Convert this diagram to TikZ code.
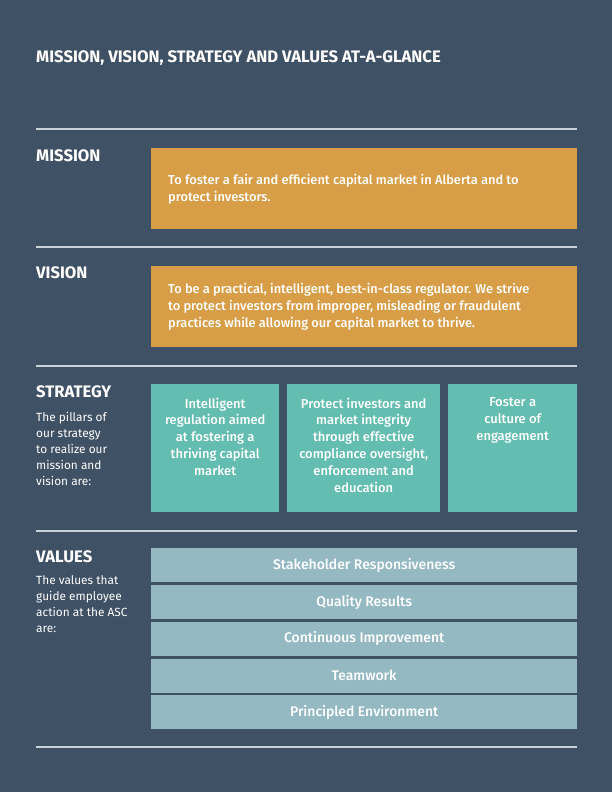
\documentclass[tikz,border=0pt]{standalone}
\usepackage{fontspec}
\setmainfont{Fira Sans}
\newfontfamily\semib{Fira Sans Medium}
\definecolor{bg}{HTML}{3F5164}
\definecolor{rulec}{HTML}{C9D1D9}
\definecolor{orangebox}{HTML}{D79E47}
\definecolor{tealbox}{HTML}{63BDB0}
\definecolor{valbox}{HTML}{95B9C3}
\definecolor{txt}{HTML}{FFFFFF}
\tikzset{
  rulel/.style={draw=rulec, line width=1.4bp},
  head/.style={anchor=base west, inner sep=0, text=txt, font=\bfseries\fontsize{16.7}{19}\selectfont},
  sidetext/.style={anchor=north west, inner sep=0, text=txt, align=left, font=\fontsize{11.9}{16}\selectfont},
  orangerect/.style={anchor=north west, inner sep=0, fill=orangebox, minimum width=426bp, minimum height=81bp},
  orangetext/.style={anchor=west, inner sep=0, text=txt, align=left, font=\semib\fontsize{12.9}{17}\selectfont},
  tealrect/.style={anchor=north west, inner sep=0, fill=tealbox, minimum height=128bp},
  tealtext/.style={anchor=north, inner sep=0, text=txt, align=center, font=\semib\fontsize{13}{17}\selectfont},
  valrect/.style={anchor=north west, inner sep=0, fill=valbox, minimum width=426bp, minimum height=34bp, text=txt, font=\semib\fontsize{14}{16}\selectfont},
}
\begin{document}
\begin{tikzpicture}[x=1bp,y=-1bp]
\fill[bg] (0,0) rectangle (612,792);
\useasboundingbox (0,0) rectangle (612,792);

\node[head] (title) at (36,63) {MISSION, VISION, STRATEGY AND VALUES AT-A-GLANCE};

\draw[rulel] (36,129) -- (577,129);
\draw[rulel] (36,247) -- (577,247);
\draw[rulel] (36,366) -- (577,366);
\draw[rulel] (36,531) -- (577,531);
\draw[rulel] (36,747) -- (577,747);

% Mission
\node[head] (missionlabel) at (36,161) {MISSION};
\node[orangerect] (missionbox) at (151,148) {};
\node[orangetext] (missiontext) at (168,189) {To foster a fair and efficient capital market in Alberta and to\\protect investors.};

% Vision
\node[head] (visionlabel) at (36,278) {VISION};
\node[orangerect] (visionbox) at (151,266) {};
\node[orangetext] (visiontext) at (168,307) {To be a practical, intelligent, best-in-class regulator. We strive\\to protect investors from improper, misleading or fraudulent\\practices while allowing our capital market to thrive.};

% Strategy
\node[head] (strategylabel) at (36,397) {STRATEGY};
\node[sidetext] (strategytext) at (36,412.5) {The pillars of\\our strategy\\to realize our\\mission and\\vision are:};
\node[tealrect, minimum width=128bp] (s1) at (151,384) {};
\node[tealrect, minimum width=153bp] (s2) at (287,384) {};
\node[tealrect, minimum width=129bp] (s3) at (448,384) {};
\node[tealtext] (s1t) at ([yshift=-13.5bp]s1.north) {Intelligent\\regulation aimed\\at fostering a\\thriving capital\\market};
\node[tealtext] (s2t) at ([yshift=-13.5bp]s2.north) {Protect investors and\\market integrity\\through effective\\compliance oversight,\\enforcement and\\education};
\node[tealtext] (s3t) at ([yshift=-13.5bp]s3.north) {Foster a\\culture of\\engagement};

% Values
\node[head] (valueslabel) at (36,562) {VALUES};
\node[sidetext] (valuestext) at (36,575.5) {The values that\\guide employee\\action at the ASC\\are:};
\node[valrect] (v1) at (151,548) {Stakeholder Responsiveness};
\node[valrect] (v2) at (151,585) {Quality Results};
\node[valrect] (v3) at (151,621.5) {Continuous Improvement};
\node[valrect] (v4) at (151,658.5) {Teamwork};
\node[valrect] (v5) at (151,695) {Principled Environment};
\end{tikzpicture}
\end{document}
